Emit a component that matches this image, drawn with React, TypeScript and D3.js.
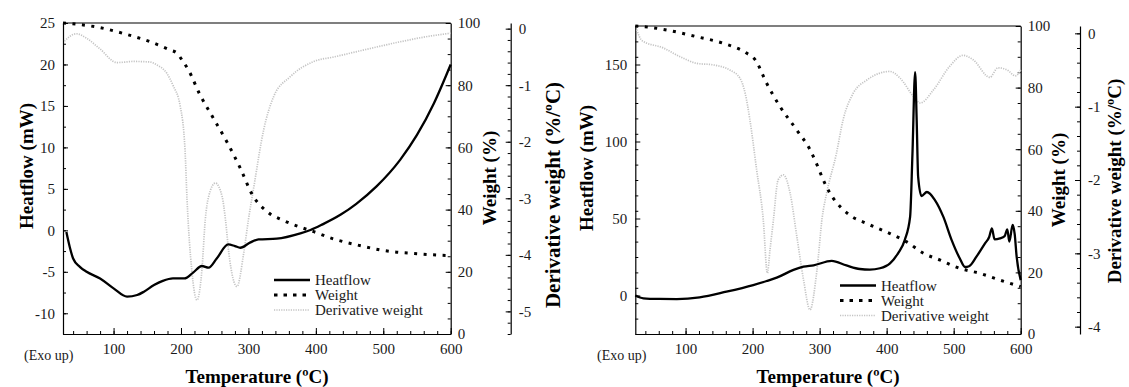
import { useRef, useEffect } from 'react';
import * as d3 from 'd3';

type Pt = [number, number]; // [temperature °C, value]

// ---- left sample ----
const leftHeatflow: Pt[] = [
  [30, -0.2], [35, -2.0], [40, -3.4], [50, -4.4], [60, -5.0], [80, -5.8], [100, -7.0], [120, -8.0],
  [135, -7.8], [145, -7.4], [160, -6.6], [173, -6.1], [188, -5.8], [205, -5.8], [218, -5.1],
  [231, -4.3], [241, -4.5], [253, -3.4], [270, -1.7], [280, -1.9], [288, -2.1], [303, -1.45],
  [315, -1.1], [342, -1.0], [377, -0.36], [392, 0.04], [410, 0.72], [437, 1.9], [460, 3.2],
  [490, 5.3], [525, 8.5], [550, 11.5], [575, 15.3], [600, 20],
];
const leftWeight: Pt[] = [
  [25, 100], [50, 99.5], [80, 98.5], [120, 96.3], [154, 94], [184, 91.3], [194, 90.3], [203, 87.6],
  [211, 84.9], [228, 77], [248, 69.4], [268, 61.8], [288, 53.3], [306, 44.7], [328, 39.3],
  [352, 36.5], [375, 34.5], [397, 32.9], [427, 30.5], [446, 29.4], [470, 28.2], [496, 27],
  [520, 26.3], [545, 25.9], [570, 25.5], [600, 25.2],
];
const leftDerivative: Pt[] = [
  [27, -0.22], [45, -0.09], [60, -0.17], [80, -0.36], [105, -0.6], [130, -0.58], [154, -0.59],
  [164, -0.64], [179, -0.79], [188, -1.0], [199, -1.38], [206, -2.15], [209, -3.03], [216, -4.27],
  [223.6, -4.8], [231, -4.27], [236, -3.38], [241, -2.97], [251, -2.73], [261, -2.97], [266, -3.38],
  [271, -3.97], [283, -4.56], [293, -3.97], [300, -3.38], [308, -2.8], [322.6, -1.79],
  [337.5, -1.2], [362, -0.85], [397, -0.58], [427, -0.5], [470, -0.38], [526, -0.23],
  [560, -0.15], [600, -0.08],
];

// ---- right sample ----
const rightHeatflow: Pt[] = [
  [25, 0], [37, -1.8], [60, -2.2], [87, -2.3], [121, -1.2], [161, 2.5], [201, 6.8], [221, 9.4],
  [236, 11.6], [261, 16.6], [276, 18.7], [291, 19.6], [318, 22.5], [340, 19.5], [360, 17.2],
  [375, 16.8], [390, 17.7], [405, 20.9], [417, 27.4], [427, 36], [435, 51], [438.5, 92],
  [442.5, 145], [444.8, 114], [447, 77], [452, 64.6], [460, 67.2], [472, 62], [484.5, 51.2],
  [497, 36], [509, 24.2], [517, 18.5], [523, 19], [534, 25.2], [547, 34], [553, 38], [557, 43.6],
  [561, 36.5], [569, 37.1], [576, 38.5], [580, 43], [583, 35], [588, 45.8], [591, 40], [594, 25],
  [600, 10],
];
const rightWeight: Pt[] = [
  [25, 100], [45, 99.6], [67, 98.9], [117, 96.5], [156, 94.4], [191, 91.2], [204, 89], [221, 81.4],
  [241, 73.8], [266, 66.2], [286, 59.7], [296, 55], [305.5, 50], [315.5, 45.7], [320, 44.2],
  [345, 38.6], [370, 35.9], [405, 32.6], [430, 29.9], [455, 26.2], [480, 24], [509, 21.3],
  [539, 19.7], [569, 17.5], [600, 15.4],
];
const rightDerivative: Pt[] = [
  [27, 0.05], [35, -0.1], [67, -0.2], [92, -0.32], [117, -0.41], [141, -0.43], [166, -0.5],
  [181, -0.61], [189, -0.82], [196, -1.18], [206, -1.86], [216, -2.55], [222, -3.27], [226, -2.95],
  [231, -2.55], [238, -2.0], [246, -1.93], [256, -2.18], [266, -2.77], [276, -3.36], [285.6, -3.77],
  [296, -3.23], [304, -2.5], [310, -2.2], [325, -1.64], [335, -1.18], [350, -0.82], [370, -0.64],
  [405, -0.52], [420, -0.61], [440, -0.86], [450, -0.95], [470, -0.77], [494, -0.45], [514, -0.3],
  [529, -0.36], [554, -0.6], [566, -0.47], [580, -0.5], [592, -0.58], [600, -0.5],
];

const tempTicks = [100, 200, 300, 400, 500, 600];
const leftHeatflowTicks = [-10, -5, 0, 5, 10, 15, 20, 25];
const rightHeatflowTicks = [0, 50, 100, 150];
const weightTicks = [0, 20, 40, 60, 80, 100];
const leftDerivTicks = [0, -1, -2, -3, -4, -5];
const rightDerivTicks = [0, -1, -2, -3, -4];
const legendItems = ['Heatflow', 'Weight', 'Derivative weight'];

const FONT = '"Liberation Serif", "Times New Roman", serif';
const DERIV_GRAY = '#c4c4c4';
const TEXT = '#1a1a1a';

interface PanelSpec {
  left: number; right: number; top: number; bottom: number;
  hfDomain: [number, number]; hfTicks: number[]; hfMinor: number;
  derivDomain: [number, number]; derivTicks: number[]; derivX: number;
  heatflow: Pt[]; weight: Pt[]; derivative: Pt[];
  legend: { x: number; y: number; gap: number };
  hfLabel: [number, number]; weightLabel: [number, number];
  derivLabel: [number, number, number];
  tempX: number; exoX: number;
}

const panels: PanelSpec[] = [
  {
    left: 63, right: 450.7, top: 23, bottom: 334,
    hfDomain: [-12.5, 25], hfTicks: leftHeatflowTicks, hfMinor: 2.5,
    derivDomain: [-5.4, 0.1], derivTicks: leftDerivTicks, derivX: 510.7,
    heatflow: leftHeatflow, weight: leftWeight, derivative: leftDerivative,
    legend: { x: 274, y: 280, gap: 15 },
    hfLabel: [33, 166], weightLabel: [496, 178], derivLabel: [560, 195, 21],
    tempX: 257, exoX: 24,
  },
  {
    left: 635.3, right: 1020.7, top: 26, bottom: 334,
    hfDomain: [-25, 175], hfTicks: rightHeatflowTicks, hfMinor: 10,
    derivDomain: [-4.1, 0.1], derivTicks: rightDerivTicks, derivX: 1080,
    heatflow: rightHeatflow, weight: rightWeight, derivative: rightDerivative,
    legend: { x: 840, y: 285.5, gap: 15 },
    hfLabel: [593, 168], weightLabel: [1065, 180], derivLabel: [1121, 181, 19],
    tempX: 828, exoX: 597,
  },
];

function styleAxis(g: d3.Selection<SVGGElement, unknown, null, undefined>, minor = false) {
  g.attr('font-family', FONT).attr('font-size', 15);
  g.selectAll('text').attr('fill', TEXT);
  g.selectAll('.tick line').attr('stroke', '#000').attr('stroke-width', 1);
  if (minor) g.select('.domain').remove();
  else g.select('.domain').attr('stroke', '#000').attr('stroke-width', 1.2);
}

function drawPanel(svg: d3.Selection<SVGSVGElement, unknown, null, undefined>, p: PanelSpec) {
  const x = d3.scaleLinear().domain([25, 600]).range([p.left, p.right]);
  const yHF = d3.scaleLinear().domain(p.hfDomain).range([p.bottom, p.top]);
  const yW = d3.scaleLinear().domain([0, 100]).range([p.bottom, p.top]);
  const yD = d3.scaleLinear().domain(p.derivDomain).range([p.bottom, p.top]);
  const fmt = (d: d3.NumberValue) => String(d);

  // top border
  svg.append('line')
    .attr('x1', p.left).attr('x2', p.right).attr('y1', p.top).attr('y2', p.top)
    .attr('stroke', '#000').attr('stroke-width', 1.2);

  // bottom axis
  const xMinor = svg.append('g').attr('transform', `translate(0,${p.bottom})`)
    .call(d3.axisBottom(x).tickValues(d3.range(40, 601, 20)).tickSize(-3).tickSizeOuter(0).tickFormat(() => ''));
  styleAxis(xMinor, true);
  const xAxis = svg.append('g').attr('transform', `translate(0,${p.bottom})`)
    .call(d3.axisBottom(x).tickValues(tempTicks).tickSize(-6).tickSizeOuter(0).tickPadding(9).tickFormat(fmt));
  styleAxis(xAxis);

  // heatflow axis
  const hfMinor = svg.append('g').attr('transform', `translate(${p.left},0)`)
    .call(d3.axisLeft(yHF).tickValues(d3.range(p.hfDomain[0], p.hfDomain[1] + 0.01, p.hfMinor)).tickSize(-3).tickFormat(() => ''));
  styleAxis(hfMinor, true);
  const hfAxis = svg.append('g').attr('transform', `translate(${p.left},0)`)
    .call(d3.axisLeft(yHF).tickValues(p.hfTicks).tickSize(-5).tickSizeOuter(0).tickPadding(8).tickFormat(fmt));
  styleAxis(hfAxis);

  // weight axis
  const wMinor = svg.append('g').attr('transform', `translate(${p.right},0)`)
    .call(d3.axisRight(yW).tickValues(d3.range(0, 101, 5)).tickSize(-3).tickFormat(() => ''));
  styleAxis(wMinor, true);
  const wAxis = svg.append('g').attr('transform', `translate(${p.right},0)`)
    .call(d3.axisRight(yW).tickValues(weightTicks).tickSize(-5).tickSizeOuter(0).tickPadding(7).tickFormat(fmt));
  styleAxis(wAxis);

  // derivative axis (detached)
  const dMinor = svg.append('g').attr('transform', `translate(${p.derivX},0)`)
    .call(d3.axisRight(yD).tickValues(d3.range(0, p.derivDomain[0] - 0.01, -0.2)).tickSize(-3).tickFormat(() => ''));
  styleAxis(dMinor, true);
  const dAxis = svg.append('g').attr('transform', `translate(${p.derivX},0)`)
    .call(d3.axisRight(yD).tickValues(p.derivTicks).tickSize(-5).tickSizeOuter(0).tickPadding(8).tickFormat(fmt));
  styleAxis(dAxis);

  // curves
  const line = (yScale: d3.ScaleLinear<number, number>) =>
    d3.line<Pt>().x((d) => x(d[0])).y((d) => yScale(d[1])).curve(d3.curveMonotoneX);

  svg.append('path').datum(p.derivative).attr('d', line(yD))
    .attr('fill', 'none').attr('stroke', DERIV_GRAY).attr('stroke-width', 1.7).attr('stroke-dasharray', '1.2 1.2');
  svg.append('path').datum(p.weight).attr('d', line(yW))
    .attr('fill', 'none').attr('stroke', '#000').attr('stroke-width', 3).attr('stroke-dasharray', '3 6.5');
  svg.append('path').datum(p.heatflow).attr('d', line(yHF))
    .attr('fill', 'none').attr('stroke', '#000').attr('stroke-width', 2.3).attr('stroke-linejoin', 'round');

  // legend
  const styles = [
    { stroke: '#000', width: 2.5, dash: '' },
    { stroke: '#000', width: 3, dash: '3.5 6' },
    { stroke: DERIV_GRAY, width: 1.7, dash: '1.2 1.2' },
  ];
  legendItems.forEach((name, i) => {
    const ly = p.legend.y + i * p.legend.gap;
    svg.append('line')
      .attr('x1', p.legend.x).attr('x2', p.legend.x + 36).attr('y1', ly).attr('y2', ly)
      .attr('stroke', styles[i].stroke).attr('stroke-width', styles[i].width)
      .attr('stroke-dasharray', styles[i].dash);
    svg.append('text')
      .attr('x', p.legend.x + 41).attr('y', ly + 5)
      .attr('font-family', FONT).attr('font-size', 15).attr('fill', TEXT)
      .text(name);
  });

  // titles
  const rotated = (pos: [number, number], text: string, size = 19) =>
    svg.append('text')
      .attr('transform', `translate(${pos[0]},${pos[1]}) rotate(-90)`)
      .attr('text-anchor', 'middle')
      .attr('font-family', FONT).attr('font-size', size).attr('font-weight', 'bold').attr('fill', '#000')
      .text(text);
  rotated(p.hfLabel, 'Heatflow (mW)');
  rotated(p.weightLabel, 'Weight (%)');
  rotated([p.derivLabel[0], p.derivLabel[1]], 'Derivative weight (%/ºC)', p.derivLabel[2]);

  svg.append('text')
    .attr('x', p.tempX).attr('y', 383).attr('text-anchor', 'middle')
    .attr('font-family', FONT).attr('font-size', 19).attr('font-weight', 'bold').attr('fill', '#000')
    .text('Temperature (ºC)');
  svg.append('text')
    .attr('x', p.exoX).attr('y', 360)
    .attr('font-family', FONT).attr('font-size', 14).attr('fill', TEXT)
    .text('(Exo up)');
}

export default function App() {
  const svgRef = useRef<SVGSVGElement>(null);

  useEffect(() => {
    if (!svgRef.current) return;
    const svg = d3.select(svgRef.current);
    svg.selectAll('*').remove();
    panels.forEach((p) => drawPanel(svg, p));
  }, []);

  return (
    <svg
      ref={svgRef}
      width={1129}
      height={387}
      style={{ position: 'absolute', left: 0, top: 0, background: '#fff' }}
    />
  );
}
